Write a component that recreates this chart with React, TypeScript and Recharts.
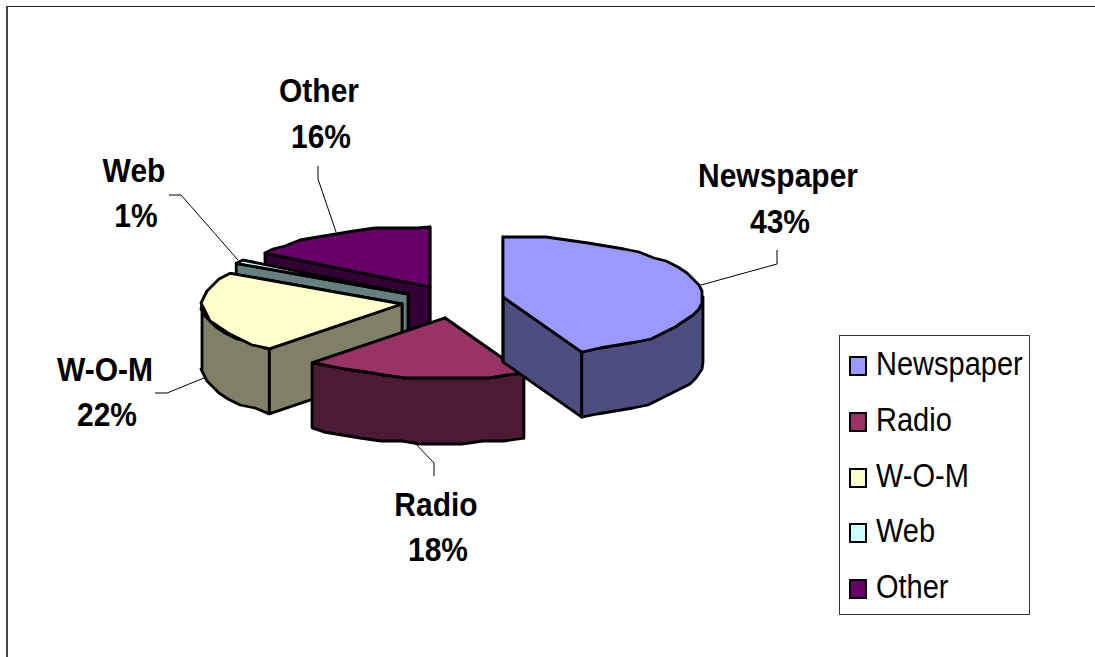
import { PieChart, Pie, Legend } from "recharts"

const categories = ["Newspaper", "Radio", "W-O-M", "Web", "Other"]
const shares = [43, 18, 22, 1, 16]

// slices are painted back to front, so the pie runs counter-clockwise from Other
const drawOrder = categories
  .map((name, i) => ({ name, value: shares[i] }))
  .reverse()

const topColors: Record<string, string> = {
  Newspaper: "#9999ff",
  Radio: "#993366",
  "W-O-M": "#ffffcc",
  Web: "#ccffff",
  Other: "#660066",
}
const wallColors: Record<string, string> = {
  Newspaper: "#4d4d80",
  Radio: "#4d1a33",
  "W-O-M": "#808066",
  Web: "#668080",
  Other: "#330033",
}

const CX = 430
const CY = 287
const RADIUS = 200
const SQUASH = 0.3
const DEPTH = 65
const TILT_SHIFT = 2 // degrees the tilted view drags the inner cuts round
const GRID = 3 // the rim is snapped to a coarse pixel grid, so it comes out uneven
const RIM_STEP = 6 // degrees between rim points

// how far each slice is pulled out of the pie
const explode: Record<string, [number, number]> = {
  Newspaper: [73, 10],
  Radio: [15, 31],
  "W-O-M": [-28, 17],
  Web: [-22, 7],
  Other: [0, 0],
}

type LabelSpot = { x: number; nameY: number; pctY: number; line: [number, number][] }
const labelSpots: Record<string, LabelSpot> = {
  Newspaper: { x: 778, nameY: 187, pctY: 233, line: [[777, 250], [777, 264], [701, 285]] },
  Radio: { x: 436, nameY: 516, pctY: 561, line: [[434, 476], [434, 463], [413, 441]] },
  "W-O-M": { x: 105, nameY: 381, pctY: 426, line: [[155, 393], [167, 393], [204, 378]] },
  Web: { x: 134, nameY: 182, pctY: 227, line: [[169, 195], [181, 195], [238, 260]] },
  Other: { x: 319, nameY: 102, pctY: 148, line: [[318, 166], [318, 179], [336, 232]] },
}

const toXY = (cx: number, cy: number, r: number, deg: number): [number, number] => {
  const d = deg % 90 === 0 ? deg : deg - TILT_SHIFT
  const a = (d * Math.PI) / 180
  return [cx + r * Math.cos(a), cy - r * SQUASH * Math.sin(a)]
}

// rim between two angles as a run of snapped points, ending exactly on the last one
const rim = (cx: number, cy: number, r: number, from: number, to: number) => {
  const step = to > from ? RIM_STEP : -RIM_STEP
  let d = ""
  for (let a = from + step; step > 0 ? a < to : a > to; a += step) {
    const [x, y] = toXY(cx, cy, r, a)
    d += `L${Math.round(x / GRID) * GRID} ${Math.round(y / GRID) * GRID}`
  }
  const [ex, ey] = toXY(cx, cy, r, to)
  return d + `L${ex} ${ey}`
}

// a wedge with its front walls, drawn as a tilted disc
function Wedge3D(props: any) {
  const { startAngle, endAngle, outerRadius, payload } = props
  const name = payload.name
  const cx = props.cx + explode[name][0]
  const cy = props.cy + explode[name][1]
  const r = outerRadius
  const [sx, sy] = toXY(cx, cy, r, startAngle)
  const [ex, ey] = toXY(cx, cy, r, endAngle)

  const side = (x: number, y: number) =>
    `M${cx} ${cy}L${x} ${y}L${x} ${y + DEPTH}L${cx} ${cy + DEPTH}Z`

  // the outer wall only shows on the lower half of the ellipse
  const visFrom = Math.max(startAngle, 180)
  const visTo = Math.min(endAngle, 360)
  let wall = null
  if (visTo > visFrom) {
    const [ax, ay] = toXY(cx, cy, r, visFrom)
    const [bx, by] = toXY(cx, cy, r, visTo)
    const d =
      `M${ax} ${ay}` +
      rim(cx, cy, r, visFrom, visTo) +
      `L${bx} ${by + DEPTH}` +
      rim(cx, cy + DEPTH, r, visTo, visFrom) +
      "Z"
    wall = <path d={d} fill={wallColors[name]} />
  }

  return (
    <g stroke="#000" strokeWidth={2.8} strokeLinejoin="round">
      <path d={side(sx, sy)} fill={wallColors[name]} />
      <path d={side(ex, ey)} fill={wallColors[name]} />
      {wall}
      <path
        d={`M${cx} ${cy}L${sx} ${sy}` + rim(cx, cy, r, startAngle, endAngle) + "Z"}
        fill={topColors[name]}
      />
    </g>
  )
}

const labelFont = {
  fontFamily: "'Liberation Sans', Arial, sans-serif",
  fontWeight: 700,
  fontSize: 30,
  fill: "#000",
}

function SliceLabel(props: any) {
  const name = props.payload.name
  const spot = labelSpots[name]
  return (
    <g>
      <polyline
        points={spot.line.map((p) => p.join(",")).join(" ")}
        fill="none"
        stroke="#000"
        strokeWidth={1}
      />
      <text
        textAnchor="middle"
        transform={`translate(${spot.x} ${spot.nameY}) scale(1 1.1)`}
        {...labelFont}
      >
        {name}
      </text>
      <text
        textAnchor="middle"
        transform={`translate(${spot.x + 2} ${spot.pctY}) scale(1 1.1)`}
        {...labelFont}
      >
        {props.payload.value}%
      </text>
    </g>
  )
}

function LegendBox() {
  return (
    <div
      style={{
        width: 189,
        height: 278,
        border: "1px solid #333",
        background: "#fff",
        position: "relative",
        fontFamily: "'Liberation Sans', Arial, sans-serif",
        fontSize: 29,
        color: "#000",
        whiteSpace: "nowrap",
      }}
    >
      {categories.map((name, i) => (
        <div key={name} style={{ position: "absolute", left: 0, top: 20 + i * 55.75, height: 20 }}>
          <div
            style={{
              position: "absolute",
              left: 9,
              top: 0,
              width: 14,
              height: 16,
              border: "2px solid #000",
              background: topColors[name],
            }}
          />
          <div
            style={{
              position: "absolute",
              left: 36,
              top: -10,
              lineHeight: "36px",
              transform: "scaleY(1.14)",
              transformOrigin: "left center",
            }}
          >
            {name}
          </div>
        </div>
      ))}
    </div>
  )
}

export default function App() {
  return (
    <div
      style={{
        position: "absolute",
        left: 0,
        top: 0,
        width: 1095,
        height: 657,
        overflow: "hidden",
        background: "#fff",
      }}
    >
      <div
        style={{
          position: "absolute",
          left: 6,
          top: 6,
          width: 1200,
          height: 800,
          borderLeft: "2px solid #444",
          borderTop: "1px solid #222",
        }}
      />
      <PieChart
        width={1095}
        height={657}
        margin={{ top: 0, right: 0, bottom: 0, left: 0 }}
        style={{ position: "absolute", left: 0, top: 0 }}
      >
        <Pie
          data={drawOrder}
          dataKey="value"
          nameKey="name"
          cx={CX}
          cy={CY}
          outerRadius={RADIUS}
          startAngle={90}
          endAngle={450}
          shape={Wedge3D}
          label={SliceLabel}
          labelLine={false}
          isAnimationActive={false}
        />
        <Legend
          content={LegendBox}
          wrapperStyle={{ position: "absolute", left: 839, top: 335, width: 191, height: 280 }}
        />
      </PieChart>
    </div>
  )
}
